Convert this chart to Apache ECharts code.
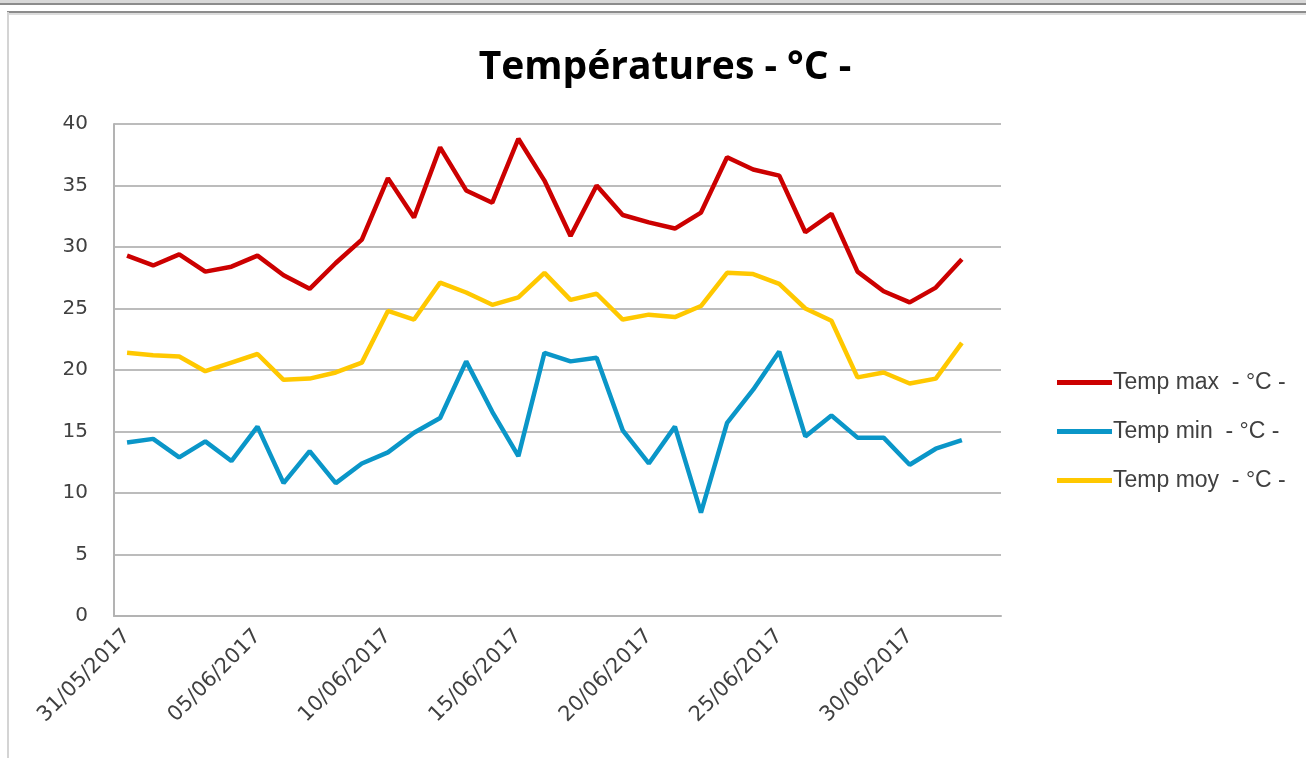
<!DOCTYPE html>
<html>
<head>
<meta charset="utf-8">
<script src="https://cdn.jsdelivr.net/npm/echarts@6/dist/echarts.min.js"></script>
<style>
html,body{margin:0;padding:0;background:#fff;}
#chart{width:1306px;height:758px;}
</style>
</head>
<body>
<div id="chart"></div>
<script>
const categories = ["31/05/2017","01/06/2017","02/06/2017","03/06/2017","04/06/2017","05/06/2017","06/06/2017","07/06/2017","08/06/2017","09/06/2017","10/06/2017","11/06/2017","12/06/2017","13/06/2017","14/06/2017","15/06/2017","16/06/2017","17/06/2017","18/06/2017","19/06/2017","20/06/2017","21/06/2017","22/06/2017","23/06/2017","24/06/2017","25/06/2017","26/06/2017","27/06/2017","28/06/2017","29/06/2017","30/06/2017","01/07/2017","02/07/2017","03/07/2017"];
const tempMax = [29.3,28.5,29.4,28.0,28.4,29.3,27.7,26.6,28.7,30.6,35.6,32.4,38.1,34.6,33.6,38.8,35.4,30.9,35.0,32.6,32.0,31.5,32.8,37.3,36.3,35.8,31.2,32.7,28.0,26.4,25.5,26.7,29.0,null];
const tempMin = [14.1,14.4,12.9,14.2,12.6,15.4,10.8,13.4,10.8,12.4,13.3,14.9,16.1,20.7,16.6,13.0,21.4,20.7,21.0,15.1,12.4,15.4,8.4,15.7,18.4,21.5,14.6,16.3,14.5,14.5,12.3,13.6,14.3,null];
const tempMoy = [21.4,21.2,21.1,19.9,20.6,21.3,19.2,19.3,19.8,20.6,24.8,24.1,27.1,26.3,25.3,25.9,27.9,25.7,26.2,24.1,24.5,24.3,25.2,27.9,27.8,27.0,25.0,24.0,19.4,19.8,18.9,19.3,22.2,null];
const seriesNames = ["Temp max  - °C -","Temp min  - °C -","Temp moy  - °C -"];
const yTicks = {min:0,max:40,interval:5};

const chart = echarts.init(document.getElementById('chart'));
const lineStyleOf = c => ({color:c,width:4.5});
chart.setOption({
  animation:false,
  backgroundColor:'#ffffff',
  title:{
    text:'Températures - °C -',
    left:660, top:43, textAlign:'center',
    textStyle:{fontFamily:'Open Sans',fontWeight:'bold',fontSize:39,color:'#000'}
  },
  legend:{
    orient:'vertical', left:1052, top:366,
    itemWidth:55, itemHeight:5, itemGap:26,
    icon:'rect',
    textStyle:{fontFamily:'Liberation Sans',fontSize:23,color:'#404040',padding:[0,0,0,-4]},
    data:seriesNames
  },
  grid:{left:114,right:305,top:124,bottom:142,containLabel:false},
  xAxis:{
    type:'category', data:categories, boundaryGap:true,
    axisLine:{lineStyle:{color:'#b3b3b3',width:2}},
    axisTick:{show:false},
    axisLabel:{interval:4,rotate:45,fontFamily:'DejaVu Sans',fontSize:21,color:'#404040',margin:17},
    splitLine:{show:false}
  },
  yAxis:{
    type:'value', min:yTicks.min, max:yTicks.max, interval:yTicks.interval,
    axisLine:{show:true,lineStyle:{color:'#b3b3b3',width:2}},
    axisTick:{show:false},
    axisLabel:{fontFamily:'DejaVu Sans',fontSize:20,color:'#404040',margin:26},
    splitLine:{lineStyle:{color:'#bcbcbc',width:2}}
  },
  graphic:[
    {type:'rect',shape:{x:0,y:0,width:1306,height:5},style:{fill:'#d8d8d8'}},
    {type:'line',shape:{x1:0,y1:4,x2:1306,y2:4},style:{stroke:'#8c8c8c',lineWidth:2}},
    {type:'line',shape:{x1:7,y1:12,x2:1306,y2:12},style:{stroke:'#8c8c8c',lineWidth:2}},
    {type:'line',shape:{x1:7,y1:14,x2:1306,y2:14},style:{stroke:'#dcdcdc',lineWidth:2}},
    {type:'line',shape:{x1:8,y1:12,x2:8,y2:758},style:{stroke:'#d4d4d4',lineWidth:2}}
  ],
  series:[
    {name:seriesNames[0],type:'line',data:tempMax,symbol:'none',color:'#cc0000',lineStyle:lineStyleOf('#cc0000')},
    {name:seriesNames[1],type:'line',data:tempMin,symbol:'none',color:'#0a96c8',lineStyle:lineStyleOf('#0a96c8')},
    {name:seriesNames[2],type:'line',data:tempMoy,symbol:'none',color:'#ffc800',lineStyle:lineStyleOf('#ffc800')}
  ]
});
</script>
</body>
</html>
